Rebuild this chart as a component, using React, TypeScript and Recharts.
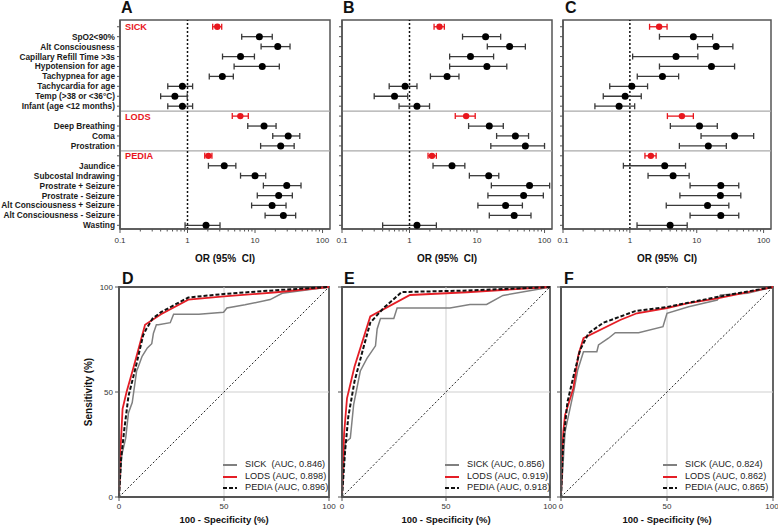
import React from 'react'
import {
  ScatterChart, Scatter, XAxis, YAxis, ErrorBar, ReferenceLine, ReferenceArea,
  LineChart, Line, Legend,
} from 'recharts'

const font = '"Liberation Sans", Arial, Helvetica, sans-serif'

// forest plot rows (top to bottom)
const rowLabels = [
  'SICK', 'SpO2<90%', 'Alt Consciousness', 'Capillary Refill Time >3s', 'Hypotension for age',
  'Tachypnea for age', 'Tachycardia for age', 'Temp (>38 or <36°C)', 'Infant (age <12 months)',
  'LODS', 'Deep Breathing', 'Coma', 'Prostration',
  'PEDIA', 'Jaundice', 'Subcostal Indrawing', 'Prostrate + Seizure', 'Prostrate - Seizure',
  'Alt Consciousness + Seizure', 'Alt Consciousness - Seizure', 'Wasting',
]
const groupHeaders = ['SICK', 'LODS', 'PEDIA']

// odds ratios and 95% CI
const orA = [2.76, 11.6, 21.7, 6.1, 12.8, 3.28, 0.84, 0.65, 0.84, 6.06, 13.6, 31, 24, 2.04, 3.5, 10, 29.5, 22.4, 17.9, 26.3, 1.88]
const loA = [2.36, 6.35, 12.3, 3.3, 4.9, 2.1, 0.51, 0.4, 0.51, 4.6, 7.8, 18.3, 12.1, 1.8, 2.04, 6.1, 13.3, 10.8, 8.9, 14.1, 0.92]
const hiA = [3.21, 18, 33, 9.8, 22.9, 4.77, 1.19, 0.99, 1.19, 7.95, 20.5, 46, 38, 2.3, 5.2, 14.4, 48, 35.7, 28.8, 40, 3.03]

const orB = [2.78, 13.4, 30.4, 8.0, 14, 3.6, 0.86, 0.6, 1.29, 6.9, 15.2, 37, 52, 2.15, 4.26, 14.9, 60, 49, 26.5, 35.5, 1.29]
const loB = [2.31, 6.1, 14.2, 3.93, 3.93, 2.04, 0.5, 0.3, 0.7, 4.76, 7.5, 19.5, 16, 1.88, 2.23, 7.7, 16.3, 14.5, 10.3, 15.2, 0.4]
const hiB = [3.28, 22.4, 52, 17.6, 27.6, 5.4, 1.29, 0.94, 1.98, 9.4, 24.5, 58, 100, 2.5, 6.6, 21, 119, 96, 47, 63, 2.5]

const orC = [2.74, 8.9, 19.5, 4.9, 16.6, 3.07, 1.07, 0.85, 0.69, 6.0, 11, 36.8, 14.9, 2.06, 3.32, 4.43, 22.9, 22.6, 14.5, 22.9, 4.0]
const loC = [1.97, 2.77, 10.3, 1.1, 2.77, 1.29, 0.5, 0.4, 0.3, 3.64, 4.03, 11.6, 5.5, 1.68, 0.8, 1.87, 7.95, 5.6, 3.5, 7.95, 1.28]
const hiC = [3.6, 17.3, 34.7, 10.4, 36.8, 5.36, 1.84, 1.48, 1.18, 8.9, 20.3, 71, 27.7, 2.47, 6.8, 7.7, 42.5, 45.6, 30.2, 42.5, 7.2]

const orTicks = [
  0.1, 0.2, 0.3, 0.4, 0.5, 0.6, 0.7, 0.8, 0.9,
  1, 2, 3, 4, 5, 6, 7, 8, 9,
  10, 20, 30, 40, 50, 60, 70, 80, 90, 100,
]
const orMajor = [0.1, 1, 10, 100]

// ROC curves, [100 - specificity, sensitivity]
const rocDSick = [[0, 0], [1.3, 20], [3.2, 28], [4.5, 40], [6.3, 45], [8.4, 60], [9.2, 62], [11, 67], [13.5, 71], [15.6, 73], [16.4, 78], [17.8, 82], [18.8, 82], [24.4, 83], [26, 87], [38, 87], [49.8, 88], [51.4, 90], [60, 91.5], [72, 94], [77.7, 97], [100, 100]]
const rocDLods = [[0, 0], [0.5, 18], [1.7, 42], [3.6, 50], [7, 62], [12.4, 82], [20, 87], [33, 94], [50, 95.5], [75, 97.5], [100, 100]]
const rocDPedia = [[0, 0], [1, 18], [2.5, 32], [4.5, 48], [8, 62], [11.5, 77], [13, 80], [16, 85], [20, 88], [33, 95], [50, 96.7], [75, 98.5], [100, 100]]

const rocESick = [[0, 0], [1, 18], [1.6, 26], [4, 28], [5.6, 44], [8.8, 60], [12, 66], [16.1, 72], [16.9, 80], [18.5, 85], [24.9, 85], [26.5, 90], [51.9, 90], [61.5, 91.7], [69.5, 91.7], [77.4, 96], [95, 99], [100, 100]]
const rocELods = [[0, 0], [1, 30], [2.4, 47], [6, 62], [13.6, 86], [32.7, 96.2], [60, 97.5], [100, 100]]
const rocEPedia = [[0, 0], [1.5, 22], [3, 38], [6, 55], [10, 70], [13.6, 83], [20, 90], [28.7, 97.6], [60, 98.3], [100, 100]]

const rocFSick = [[0, 0], [1.9, 31], [6.3, 51.7], [7.9, 60.5], [10.6, 69.2], [16.9, 69.2], [17.7, 72.4], [22.4, 75.6], [25.6, 78.2], [36.6, 78.2], [48.1, 81.1], [50, 87.5], [60.2, 90.6], [73.7, 93.8], [75.2, 96.2], [87.9, 97], [100, 100]]
const rocFLods = [[0, 0], [0.5, 20], [1.1, 31], [1.9, 39], [5.8, 51.7], [8.2, 67.6], [10.6, 75.6], [27.9, 84.3], [35.8, 87.5], [50, 90], [59.5, 92.2], [73.7, 94.6], [100, 100]]
const rocFPedia = [[0, 0], [1, 25], [3, 45], [6, 58], [9, 70], [13, 78], [20, 83], [35, 88.5], [50, 90.5], [60, 92.5], [75, 95.5], [100, 100]]

const legendD = ['SICK  (AUC, 0.846)', 'LODS (AUC, 0.898)', 'PEDIA (AUC, 0.896)']
const legendE = ['SICK (AUC, 0.856)', 'LODS (AUC, 0.919)', 'PEDIA (AUC, 0.918)']
const legendF = ['SICK (AUC, 0.824)', 'LODS (AUC, 0.862)', 'PEDIA (AUC, 0.865)']

const RED = '#e8161d'
const AXIS = '#555'

const OrTick = (props: any) => {
  const { x, y, payload } = props
  const v = payload.value
  const major = orMajor.includes(v)
  const axisY = y - 6
  return (
    <g>
      <line x1={x} x2={x} y1={axisY} y2={axisY + (major ? 4 : 2.5)} stroke={AXIS} strokeWidth={1} />
      {major && (
        <text x={x} y={axisY + 14} textAnchor="middle" fontSize={8} fill="#333">{v}</text>
      )}
    </g>
  )
}

const makeRowTick = (showLabels: boolean) => (props: any) => {
  const { x, y, payload } = props
  const label = rowLabels[payload.value]
  if (!showLabels) return <g />
  if (groupHeaders.includes(label)) {
    return (
      <text x={x + 10} y={y + 3.5} textAnchor="start" fontSize={9.2} fontWeight="bold" fill={RED}>{label}</text>
    )
  }
  return (
    <text x={x} y={y + 3} textAnchor="end" fontSize={8.3} fontWeight="bold" fill="#1a1a1a">{label}</text>
  )
}

const dot = (color: string, r: number) => (p: any) => <circle cx={p.cx} cy={p.cy} r={r} fill={color} />

function Forest({ or, lo, hi, showLabels, left, width, marginRight }: any) {
  const rows = rowLabels.map((label, i) => ({
    row: i,
    or: or[i],
    err: [or[i] - lo[i], hi[i] - or[i]],
    header: groupHeaders.includes(label),
  }))
  const headers = rows.filter(r => r.header)
  const items = rows.filter(r => !r.header)
  return (
    <div style={{ position: 'absolute', left, top: 0 }}>
      <ScatterChart width={width} height={270} margin={{ top: 20, right: marginRight, left: 0, bottom: 0 }}>
        <XAxis
          type="number" dataKey="or" scale="log" domain={[0.1, 129]} allowDataOverflow
          ticks={orTicks} interval={0} tick={<OrTick />} tickLine={false} tickSize={4} tickMargin={2}
          height={41} axisLine={{ stroke: AXIS, strokeWidth: 1.5 }}
          label={{ value: 'OR (95%\u00a0 CI)', position: 'insideBottom', offset: 8, fontSize: 10, fontWeight: 'bold', fill: '#111' }}
        />
        <YAxis
          type="number" dataKey="row" domain={[-0.68, 20.37]} reversed allowDataOverflow
          ticks={rowLabels.map((_, i) => i)} interval={0} width={showLabels ? 120 : 20}
          tickSize={3} tickMargin={2} tick={makeRowTick(showLabels)}
          tickLine={{ stroke: AXIS }} axisLine={{ stroke: AXIS, strokeWidth: 1.5 }}
        />
        <ReferenceArea x1={0.1} x2={129} y1={-0.68} y2={20.37} fill="none" stroke={AXIS} strokeWidth={1.5} ifOverflow="visible" />
        <ReferenceLine y={8.5} stroke="#aaa" strokeWidth={1.2} />
        <ReferenceLine y={12.5} stroke="#aaa" strokeWidth={1.2} />
        <ReferenceLine x={1} stroke="#111" strokeDasharray="2 2" strokeWidth={1.5} />
        <Scatter data={items} isAnimationActive={false} shape={dot('#000', 3.5)}>
          <ErrorBar dataKey="err" direction="x" width={3} stroke="#3a3a3a" strokeWidth={1.3} />
        </Scatter>
        <Scatter data={headers} isAnimationActive={false} shape={dot(RED, 3.2)}>
          <ErrorBar dataKey="err" direction="x" width={3} stroke={RED} strokeWidth={1.3} />
        </Scatter>
      </ScatterChart>
    </div>
  )
}

const toPts = (arr: number[][]) => arr.map(([x, y]) => ({ x, y }))

const makeLegend = (names: string[]) => (props: any) => {
  const items = [...(props.payload || [])].sort((a: any, b: any) => names.indexOf(a.value) - names.indexOf(b.value))
  return (
    <div style={{ fontSize: 9.2, color: '#222', lineHeight: '11.7px' }}>
      {items.map((item: any) => (
        <div key={item.value} style={{ display: 'flex', alignItems: 'center', whiteSpace: 'pre' }}>
          <svg width={14} height={4} style={{ marginRight: 8 }}>
            <line x1={0} y1={2} x2={14} y2={2} stroke={item.color} strokeWidth={2}
              strokeDasharray={item.payload && item.payload.strokeDasharray} />
          </svg>
          <span>{item.value}</span>
        </div>
      ))}
    </div>
  )
}

function Roc({ sick, lods, pedia, names, left, width, marginRight, yWidth, showYLabels, legendLeft }: any) {
  return (
    <div style={{ position: 'absolute', left, top: 277 }}>
      <LineChart width={width} height={250} margin={{ top: 10, right: marginRight, left: 0, bottom: 0 }}>
        <XAxis
          type="number" dataKey="x" domain={[0, 100]} ticks={[0, 50, 100]} height={30}
          tickSize={4} tickMargin={2} tick={{ fontSize: 8, fill: '#333' }}
          axisLine={{ stroke: AXIS, strokeWidth: 1.8 }} tickLine={{ stroke: AXIS }}
          label={{ value: '100 - Specificity (%)', position: 'insideBottom', offset: 4, fontSize: 9.5, fontWeight: 'bold', fill: '#111' }}
        />
        <YAxis
          type="number" dataKey="y" domain={[0, 100]} ticks={[0, 50, 100]} width={yWidth}
          tickSize={4} tickMargin={2} tick={{ fontSize: 8, fill: '#333' }}
          tickFormatter={showYLabels ? undefined : () => ''}
          axisLine={{ stroke: AXIS, strokeWidth: 1.8 }} tickLine={{ stroke: AXIS }}
          label={showYLabels ? { value: 'Sensitivity (%)', angle: -90, position: 'insideLeft', offset: 9, fontSize: 10, fontWeight: 'bold', fill: '#111', style: { textAnchor: 'middle' } } : undefined}
        />
        <ReferenceLine x={50} stroke="#cfcfcf" strokeWidth={1} />
        <ReferenceLine y={50} stroke="#cfcfcf" strokeWidth={1} />
        <ReferenceLine segment={[{ x: 0, y: 0 }, { x: 100, y: 100 }]} stroke="#222" strokeDasharray="2 2" strokeWidth={1} />
        <ReferenceArea x1={0} x2={100} y1={0} y2={100} fill="none" stroke={AXIS} strokeWidth={1.8} ifOverflow="visible" />
        <Line data={toPts(sick)} dataKey="y" name={names[0]} type="linear" stroke="#808080" strokeWidth={1.5} dot={false} isAnimationActive={false} />
        <Line data={toPts(lods)} dataKey="y" name={names[1]} type="linear" stroke="#e41e26" strokeWidth={1.8} dot={false} isAnimationActive={false} />
        <Line data={toPts(pedia)} dataKey="y" name={names[2]} type="linear" stroke="#111" strokeWidth={2} strokeDasharray="4 2" dot={false} isAnimationActive={false} />
        <Legend
          layout="horizontal" verticalAlign="middle" align="center" content={makeLegend(names)}
          wrapperStyle={{ left: legendLeft, top: 182, width: 'auto', height: 'auto' }}
        />
      </LineChart>
    </div>
  )
}

const letterStyle = (left: number, top: number): React.CSSProperties => ({
  position: 'absolute', left, top, fontSize: 16, fontWeight: 'bold', lineHeight: '16px', color: '#111',
})

export default function App() {
  return (
    <div style={{ position: 'absolute', left: 0, top: 0, width: 778, height: 527, overflow: 'hidden', background: '#fff', fontFamily: font }}>
      <Forest or={orA} lo={loA} hi={hiA} showLabels left={0} width={340} marginRight={10} />
      <Forest or={orB} lo={loB} hi={hiB} showLabels={false} left={322} width={240} marginRight={10} />
      <Forest or={orC} lo={loC} hi={hiC} showLabels={false} left={543} width={235} marginRight={7} />
      <Roc sick={rocDSick} lods={rocDLods} pedia={rocDPedia} names={legendD} left={79} width={260} marginRight={10} yWidth={40} showYLabels legendLeft={144} />
      <Roc sick={rocESick} lods={rocELods} pedia={rocEPedia} names={legendE} left={322} width={240} marginRight={12} yWidth={20} showYLabels={false} legendLeft={123} />
      <Roc sick={rocFSick} lods={rocFLods} pedia={rocFPedia} names={legendF} left={541} width={237} marginRight={5} yWidth={20} showYLabels={false} legendLeft={122} />
      <div style={letterStyle(121, 0)}>A</div>
      <div style={letterStyle(343, 0)}>B</div>
      <div style={letterStyle(565, 0)}>C</div>
      <div style={letterStyle(122, 271)}>D</div>
      <div style={letterStyle(344, 271)}>E</div>
      <div style={letterStyle(564, 271)}>F</div>
    </div>
  )
}
